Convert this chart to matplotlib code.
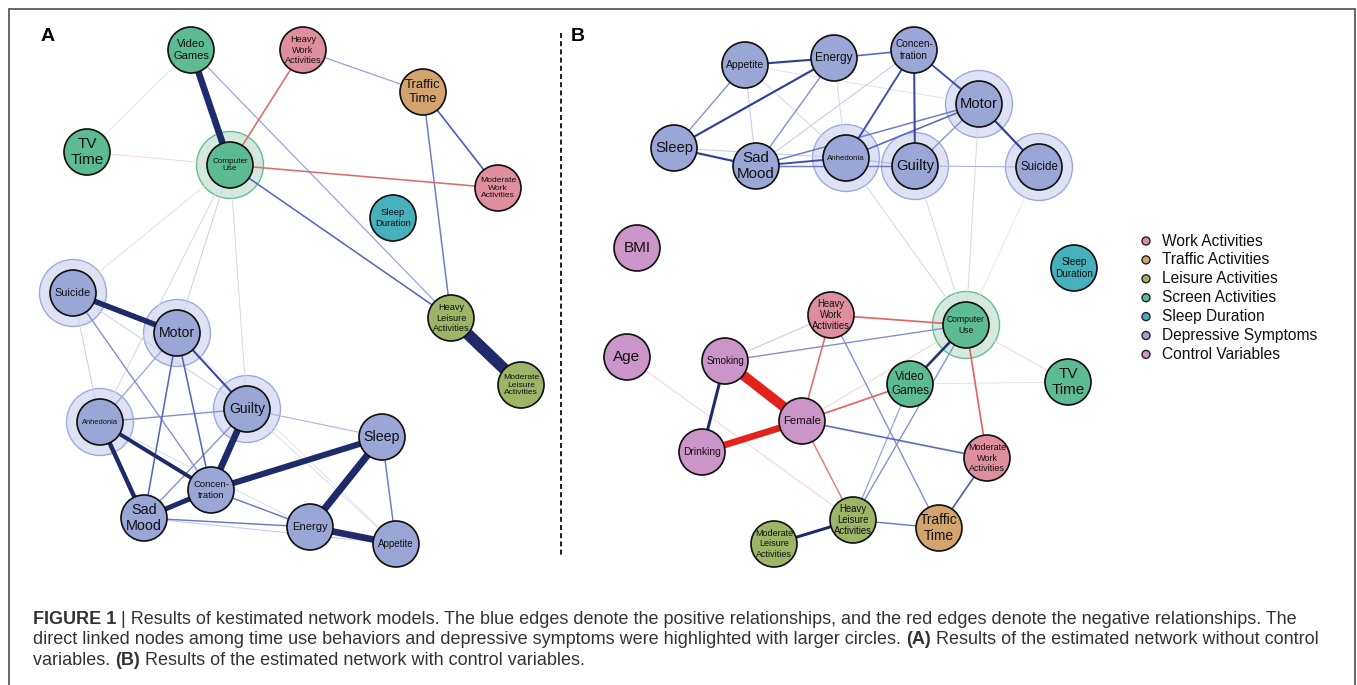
import matplotlib
matplotlib.use('Agg')
import matplotlib.pyplot as plt
from matplotlib.patches import Circle
from matplotlib.colors import LinearSegmentedColormap
from matplotlib import font_manager

W, H = 1357, 685

# ---------------- data ----------------
group_colors = {
    'work': '#DF8E9E', 'traffic': '#D4A46F', 'leisure': '#9CB566',
    'screen': '#5DBB93', 'sleep': '#46B0BD', 'dep': '#99A6D6', 'control': '#CC95C9',
}
legend_groups = ['work', 'traffic', 'leisure', 'screen', 'sleep', 'dep', 'control']
legend_labels = ['Work Activities', 'Traffic Activities', 'Leisure Activities',
                 'Screen Activities', 'Sleep Duration', 'Depressive Symptoms',
                 'Control Variables']

node_labels = {
    'VG': 'Video\nGames', 'HWA': 'Heavy\nWork\nActivities', 'TT': 'Traffic\nTime',
    'TV': 'TV\nTime', 'CU': 'Computer\nUse', 'MWA': 'Moderate\nWork\nActivities',
    'SD': 'Sleep\nDuration', 'SUI': 'Suicide', 'MOT': 'Motor',
    'HLA': 'Heavy\nLeisure\nActivities', 'MLA': 'Moderate\nLeisure\nActivities',
    'ANH': 'Anhedonia', 'GUI': 'Guilty', 'SLP': 'Sleep', 'CON': 'Concen-\ntration',
    'SAD': 'Sad\nMood', 'ENE': 'Energy', 'APP': 'Appetite', 'BMI': 'BMI',
    'AGE': 'Age', 'SMK': 'Smoking', 'FEM': 'Female', 'DRK': 'Drinking',
}
node_groups = {
    'VG': 'screen', 'HWA': 'work', 'TT': 'traffic', 'TV': 'screen', 'CU': 'screen',
    'MWA': 'work', 'SD': 'sleep', 'SUI': 'dep', 'MOT': 'dep', 'HLA': 'leisure',
    'MLA': 'leisure', 'ANH': 'dep', 'GUI': 'dep', 'SLP': 'dep', 'CON': 'dep',
    'SAD': 'dep', 'ENE': 'dep', 'APP': 'dep', 'BMI': 'control', 'AGE': 'control',
    'SMK': 'control', 'FEM': 'control', 'DRK': 'control',
}

# Panel A layout
nodes_A = ['VG', 'HWA', 'TT', 'TV', 'CU', 'MWA', 'SD', 'SUI', 'MOT', 'HLA', 'MLA',
           'ANH', 'GUI', 'SLP', 'CON', 'SAD', 'ENE', 'APP']
x_A = [191, 303, 423, 87, 230, 498, 393, 73, 177, 451, 521, 100, 247, 382, 211, 144, 310, 396]
y_A = [50, 50, 92, 152, 165, 188, 218, 293, 333, 318, 385, 422, 409, 437, 490, 518, 527, 544]
halo_A = ['CU', 'SUI', 'MOT', 'ANH', 'GUI']
edges_A = [
    ('HLA', 'MLA', 1.00), ('VG', 'CU', 0.55), ('SUI', 'MOT', 0.45), ('SLP', 'ENE', 0.60),
    ('CON', 'SLP', 0.50), ('GUI', 'CON', 0.55), ('ENE', 'APP', 0.55), ('CON', 'SAD', 0.40),
    ('ANH', 'SAD', 0.35), ('ANH', 'CON', 0.30), ('MOT', 'GUI', 0.13), ('MOT', 'SAD', 0.09),
    ('MOT', 'CON', 0.09), ('SLP', 'APP', 0.08), ('CON', 'ENE', 0.08), ('SAD', 'ENE', 0.08),
    ('SAD', 'APP', 0.04), ('GUI', 'SAD', 0.07), ('SUI', 'CON', 0.07), ('MOT', 'ANH', 0.06),
    ('ANH', 'GUI', 0.07), ('GUI', 'SLP', 0.05), ('SUI', 'ANH', 0.035), ('SUI', 'GUI', 0.035),
    ('GUI', 'APP', 0.025), ('MOT', 'APP', 0.02), ('ANH', 'ENE', 0.025),
    ('CU', 'ANH', 0.03), ('CU', 'MOT', 0.035), ('CU', 'GUI', 0.03), ('CU', 'SUI', -0.025),
    ('CU', 'TV', -0.025), ('VG', 'TV', 0.02), ('CU', 'HWA', -0.09), ('CU', 'MWA', -0.09),
    ('CU', 'HLA', 0.09), ('VG', 'HLA', 0.06), ('HWA', 'TT', 0.06), ('TT', 'MWA', 0.10),
    ('TT', 'HLA', 0.08),
]

# Panel B layout
nodes_B = ['APP', 'ENE', 'CON', 'MOT', 'SLP', 'SAD', 'ANH', 'GUI', 'SUI', 'BMI', 'SD',
           'CU', 'HWA', 'AGE', 'SMK', 'VG', 'TV', 'FEM', 'DRK', 'MWA', 'HLA', 'TT', 'MLA']
x_B = [745, 834, 914, 979, 674, 756, 846, 915, 1039, 637, 1074,
       966, 831, 627, 725, 910, 1068, 802, 702, 987, 853, 939, 774]
y_B = [65, 58, 50, 104, 148, 166, 158, 166, 167, 248, 268,
       325, 315, 357, 361, 384, 382, 421, 452, 458, 520, 528, 544]
halo_B = ['MOT', 'ANH', 'GUI', 'SUI', 'CU']
edges_B = [
    ('SMK', 'FEM', -0.85), ('DRK', 'FEM', -0.55), ('SMK', 'DRK', 0.22), ('HLA', 'MLA', 0.22),
    ('CU', 'VG', 0.18), ('APP', 'ENE', 0.14), ('SLP', 'ENE', 0.14), ('SLP', 'SAD', 0.14),
    ('MOT', 'SUI', 0.14), ('CON', 'GUI', 0.13), ('CON', 'ANH', 0.12), ('CON', 'MOT', 0.12),
    ('SAD', 'ANH', 0.12), ('ENE', 'CON', 0.09), ('APP', 'SLP', 0.07), ('ENE', 'SAD', 0.07),
    ('SAD', 'GUI', 0.08), ('SAD', 'MOT', 0.08), ('ANH', 'MOT', 0.09), ('GUI', 'MOT', 0.07),
    ('GUI', 'SUI', 0.05), ('ANH', 'GUI', 0.05), ('APP', 'SAD', 0.04), ('APP', 'MOT', 0.02),
    ('APP', 'ANH', 0.03), ('ENE', 'ANH', 0.03), ('CON', 'SAD', 0.04), ('SLP', 'ANH', 0.04),
    ('ANH', 'CU', 0.03), ('GUI', 'CU', 0.03), ('MOT', 'CU', 0.03), ('SUI', 'CU', -0.02),
    ('CU', 'HWA', -0.10), ('CU', 'SMK', 0.07), ('HWA', 'SMK', 0.04), ('CU', 'FEM', -0.03),
    ('CU', 'TV', -0.03), ('CU', 'MWA', -0.10), ('CU', 'HLA', 0.07), ('VG', 'HLA', 0.06),
    ('VG', 'TV', 0.02), ('VG', 'FEM', -0.10), ('HWA', 'FEM', -0.09), ('HWA', 'TT', 0.07),
    ('AGE', 'HLA', -0.03), ('FEM', 'MWA', 0.09), ('FEM', 'HLA', -0.08), ('MWA', 'TT', 0.10),
    ('HLA', 'TT', 0.08),
]

caption_runs = [
    [('FIGURE 1', True), (' | Results of kestimated network models. The blue edges denote the positive relationships, and the red edges denote the negative relationships. The', False)],
    [('direct linked nodes among time use behaviors and depressive symptoms were highlighted with larger circles. ', False), ('(A)', True), (' Results of the estimated network without control', False)],
    [('variables. ', False), ('(B)', True), (' Results of the estimated network with control variables.', False)],
]

# ---------------- styling ----------------
def have_font(name):
    try:
        font_manager.findfont(font_manager.FontProperties(family=name), fallback_to_default=False)
        return True
    except Exception:
        return False

NODE_FONT = 'Liberation Sans' if have_font('Liberation Sans') else 'DejaVu Sans'
CAP_FONT = 'Liberation Sans Narrow' if have_font('Liberation Sans Narrow') else NODE_FONT

R_NODE = 23
R_HALO = 33.5
PX = 72.0 / 100.0

pos_cmap = LinearSegmentedColormap.from_list('pos', [
    (0.0, '#F2F3FB'), (0.2, '#C6CBED'), (0.45, '#5666C6'), (0.7, '#2F3F98'), (1.0, '#1E2B6B')])
neg_cmap = LinearSegmentedColormap.from_list('neg', [
    (0.0, '#FCEEEE'), (0.2, '#F5C6C6'), (0.45, '#E26A6A'), (1.0, '#E5211B')])

fig = plt.figure(figsize=(W / 100, H / 100), dpi=100)
ax = fig.add_axes([0, 0, 1, 1])
ax.set_xlim(0, W)
ax.set_ylim(H, 0)
ax.axis('off')
renderer = fig.canvas.get_renderer()


def draw_network(nodes, xs, ys, halos, edges, label_w):
    pos = {n: (x, y) for n, x, y in zip(nodes, xs, ys)}
    for n in halos:
        scr = node_groups[n] == 'screen'
        ax.add_patch(Circle(pos[n], R_HALO, fc='#D5EADF' if scr else '#DEE2F2',
                            ec='#62C192' if scr else '#9FABE0', lw=1.4 * PX, zorder=1))
    for a, b, w in sorted(edges, key=lambda e: abs(e[2])):
        t = min(1.0, abs(w) / 0.2)
        col = pos_cmap(t) if w > 0 else neg_cmap(t)
        lw = (0.6 + 11.0 * abs(w)) * PX
        (x1, y1), (x2, y2) = pos[a], pos[b]
        ax.plot([x1, x2], [y1, y2], color=col, lw=lw, solid_capstyle='butt', zorder=2)
    for n in nodes:
        ax.add_patch(Circle(pos[n], R_NODE, fc=group_colors[node_groups[n]],
                            ec='#111111', lw=1.7 * PX, zorder=3))
        txt = ax.text(pos[n][0], pos[n][1], node_labels[n], ha='center', va='center',
                      fontsize=10, family=NODE_FONT, color='#111111', zorder=4,
                      linespacing=1.15)
        bw = txt.get_window_extent(renderer).width
        txt.set_fontsize(min(10 * label_w / bw, 11.0))


draw_network(nodes_A, x_A, y_A, halo_A, edges_A, 36.0)
draw_network(nodes_B, x_B, y_B, halo_B, edges_B, 38.0)

# panel letters
ax.text(48, 36, 'A', fontsize=14, fontweight='bold', family=NODE_FONT, ha='center', va='center')
ax.text(578, 36, 'B', fontsize=14, fontweight='bold', family=NODE_FONT, ha='center', va='center')

# dashed divider
ax.plot([561, 561], [33, 557], color='#222222', lw=2 * PX, ls=(0, (2.5, 1.6)), zorder=1)

# legend
for i, (g, lab) in enumerate(zip(legend_groups, legend_labels)):
    yy = 241 + i * 18.9
    ax.add_patch(Circle((1146, yy), 4.0, fc=group_colors[g], ec='#222222', lw=1.4 * PX, zorder=3))
    ax.text(1162, yy, lab, fontsize=11.2, family=NODE_FONT, va='center', ha='left', color='#111111')

# frame
ax.plot([8.5, 8.5, 1354.5, 1354.5], [H + 5, 9, 9, H + 5], color='#5a5a5a', lw=1.8 * PX,
        solid_joinstyle='miter', zorder=0)

# caption
baselines = [624, 644.5, 665]
probe = ax.text(0, 0, ''.join(s for s, _ in caption_runs[0]), fontsize=12, family=CAP_FONT)
pw = probe.get_window_extent(renderer).width
probe.remove()
cap_size = 12 * 1262.0 / pw
for runs, yb in zip(caption_runs, baselines):
    x = 33
    for s, bold in runs:
        t = ax.text(x, yb, s, fontsize=cap_size, family=CAP_FONT,
                    fontweight='bold' if bold else 'normal', color='#333333',
                    ha='left', va='baseline')
        x += t.get_window_extent(renderer).width

fig.savefig('out.png', dpi=100)
